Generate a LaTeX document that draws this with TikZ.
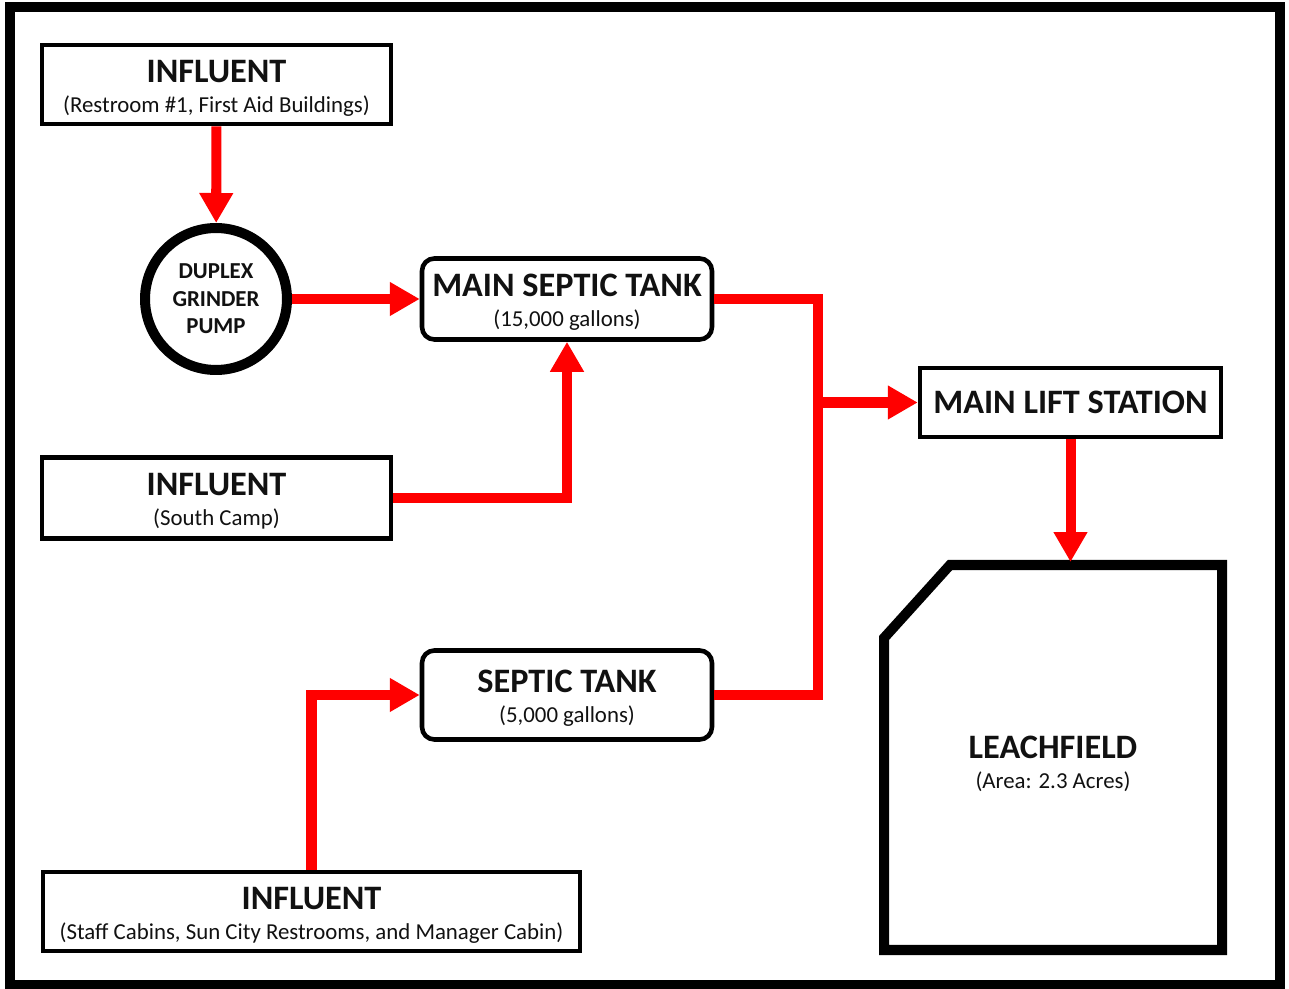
\documentclass[tikz,border=0pt]{standalone}
\usepackage{fontspec}
\setmainfont{Carlito}
\usetikzlibrary{arrows.meta}
\definecolor{pipe-red}{HTML}{FF0000}
\definecolor{ink}{HTML}{111111}
\newcommand\headfont{\fontsize{19.5}{22}\selectfont\bfseries}
\newcommand\notefont{\fontsize{13}{17}\selectfont}
\newcommand\pumpfont{\fontsize{13}{15.6}\selectfont\bfseries}
\newcommand\headline[1]{{\headfont\rule{0pt}{16.6pt}#1}}

\begin{document}
\begin{tikzpicture}[x=0.02cm, y=-0.02cm,
      every node/.style={align=center, inner sep=0pt, text=ink, font=\notefont},
      plainbox/.style={draw=black, line width=2.6pt, fill=white},
      tankbox/.style={plainbox, rounded corners=7pt},
      pipe/.style={draw=pipe-red, line width=5.7pt},
      flow/.style={pipe, -{Triangle[width=0.64cm, length=0.6cm]}}]
    \useasboundingbox (0,0) rectangle (1289,989);
    \draw[line width=5.4pt] (10,7) rectangle (1280,985);
    \node[plainbox, minimum width=6.98cm, minimum height=1.58cm] (inf1) at (216.5,84.5)
         {\headline{INFLUENT}\\(Restroom \#1, First Aid Buildings)};
    \node[circle, draw=black, line width=5.7pt, fill=white, minimum size=2.84cm,
          font=\pumpfont] (pump) at (216,299) {DUPLEX\\GRINDER\\PUMP};
    \node[tankbox, minimum width=5.8cm, minimum height=1.62cm] (mst) at (567,299)
         {\headline{MAIN SEPTIC TANK}\\(15,000 gallons)};
    \node[plainbox, minimum width=6.98cm, minimum height=1.62cm] (inf2) at (216.5,498)
         {\headline{INFLUENT}\\(South Camp)};
    \node[tankbox, minimum width=5.8cm, minimum height=1.78cm] (st) at (567,695)
         {\headline{SEPTIC TANK}\\(5,000 gallons)};
    \node[plainbox, minimum width=10.74cm, minimum height=1.58cm] (inf3) at (311.5,911.5)
         {\headline{INFLUENT}\\(Staff Cabins, Sun City Restrooms, and Manager Cabin)};
    \node[plainbox, minimum width=6.02cm, minimum height=1.38cm, font=\headfont] (mls) at (1070.5,402.5)
         {MAIN LIFT STATION};
    \draw[line width=5.7pt, line join=miter] (950,565) -- (1222,565) -- (1222,950)
         -- (884,950) -- (884,638) -- cycle;
    \node (leach) at (1053,764) {{\headfont LEACHFIELD}\\(Area: 2.3 Acres)};
    \coordinate (junction) at (818,402.5);
    \coordinate (leachtop) at (1070.5,562);
    \draw[flow] (inf1) -- (pump);
    \draw[flow] (pump) -- (mst);
    \draw[flow] (inf2.east) -| (mst.south);
    \draw[flow] (inf3.north) |- (st.west);
    \draw[pipe, line join=miter] (mst.east) -| (junction) |- (st.east);
    \draw[flow] (junction) -- (mls.west);
    \draw[flow] (mls.south) -- (leachtop);
\end{tikzpicture}
\end{document}
